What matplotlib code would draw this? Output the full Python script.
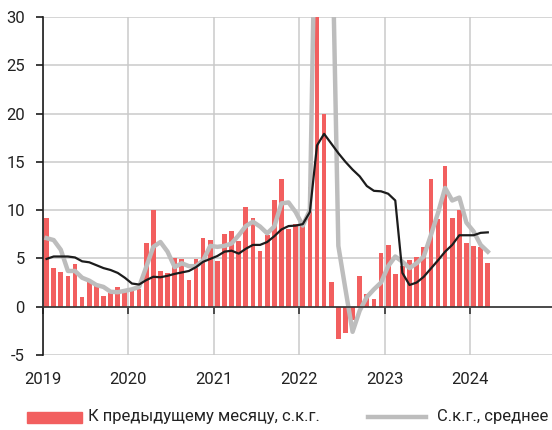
import matplotlib
matplotlib.use("Agg")
import matplotlib.pyplot as plt
import numpy as np
from matplotlib.patches import Rectangle
from matplotlib.lines import Line2D

plt.rcParams['font.family'] = ['Roboto', 'DejaVu Sans']

# Monthly data, Jan 2019 .. Mar 2024
start_year = 2019
mom_saar = [
    9.2, 4.0, 3.6, 3.2, 4.4, 1.0, 2.6, 2.4, 1.1, 1.4, 2.0, 1.5,
    1.6, 1.8, 6.6, 10.0, 3.7, 3.45, 5.0, 4.9, 2.8, 4.9, 7.1, 6.9,
    4.7, 7.5, 7.8, 6.8, 10.3, 9.2, 5.8, 7.4, 11.1, 13.2, 8.0, 8.6,
    8.7, 12.4, 45.0, 20.0, 2.6, -3.3, -2.7, -1.4, 3.2, 1.3, 0.8, 5.6,
    6.4, 3.4, 4.2, 4.8, 5.1, 6.2, 13.2, 9.1, 14.6, 9.15, 10.0, 6.6,
    6.3, 6.2, 4.5,
]
avg_3m = [
    7.1, 6.9, 5.9, 3.7, 3.7, 3.0, 2.7, 2.25, 2.05, 1.55, 1.5, 1.65,
    1.8, 2.05, 4.1, 6.2, 6.7, 5.7, 4.1, 4.5, 4.2, 4.2, 4.8, 6.3,
    6.2, 6.3, 6.55, 7.4, 8.35, 8.8, 8.3, 7.6, 8.3, 10.7, 10.8, 9.8,
    8.4, 10.0, 52.0, 60.0, 44.0, 6.3, 1.8, -2.6, -0.4, 1.0, 1.8, 2.5,
    4.2, 5.2, 4.66, 4.0, 4.5, 5.2, 7.4, 9.7, 12.3, 11.0, 11.3, 8.7,
    7.8, 6.4, 5.7,
]
avg_long = [
    4.95, 5.2, 5.2, 5.2, 5.1, 4.7, 4.6, 4.3, 4.0, 3.8, 3.5, 3.0,
    2.4, 2.3, 2.75, 3.1, 3.05, 3.2, 3.4, 3.55, 3.7, 4.1, 4.65, 4.95,
    5.25, 5.7, 5.8, 5.5, 6.0, 6.4, 6.4, 6.7, 7.3, 8.0, 8.35, 8.4,
    8.55, 9.8, 16.7, 17.9, 16.9, 15.9, 15.0, 14.2, 13.5, 12.5, 12.0, 11.95,
    11.7, 11.0, 3.5, 2.25, 2.5, 3.1, 3.95, 4.8, 5.7, 6.4, 7.4, 7.4,
    7.4, 7.65, 7.7,
]
year_ticks = [2019, 2020, 2021, 2022, 2023, 2024]
year_labels = ['2019', '2020', '2021', '2022', '2023', '2024']
y_ticks = [-5, 0, 5, 10, 15, 20, 25, 30]
legend_labels = ['К предыдущему месяцу, с.к.г.',
                 'С.к.г., среднее']

RED = '#F25F5F'
GREY = '#BDBDBD'
BLACK = '#1C1C1C'
GRID = '#CACACA'

n = len(mom_saar)
x = start_year + (np.arange(n) + 0.5) / 12.0

W, H = 552, 430
fig = plt.figure(figsize=(W / 100, H / 100), dpi=100)
ax_left = 43 / W
ax_w = 512.4 / W
ax_bottom = 1 - 355 / H
ax_h = 338 / H
ax = fig.add_axes([ax_left, ax_bottom, ax_w, ax_h])

ax.bar(x, mom_saar, width=0.66 / 12, color=RED, zorder=2)
ax.plot(x, avg_3m, color=GREY, lw=3.2, zorder=3, solid_joinstyle='round')
ax.plot(x, avg_long, color=BLACK, lw=1.6, zorder=4, solid_joinstyle='round')

ax.set_xlim(2019, 2025)
ax.set_ylim(-5, 30)
ax.set_yticks(y_ticks)
ax.set_yticklabels([str(v) for v in y_ticks])
ax.set_xticks(year_ticks)
ax.set_xticklabels(year_labels)

ax.grid(True, color=GRID, lw=1.1, zorder=0)
ax.set_axisbelow(True)

for s in ['top', 'right']:
    ax.spines[s].set_visible(False)
ax.spines['left'].set_color(BLACK)
ax.spines['left'].set_linewidth(1.2)
ax.spines['bottom'].set_position(('data', 0))
ax.spines['bottom'].set_color('#333333')
ax.spines['bottom'].set_linewidth(1.2)
ax.spines['bottom'].set_zorder(5)

ax.tick_params(axis='y', direction='out', length=5, width=1.2, color=BLACK,
               pad=8, labelsize=12, labelcolor='#222222')
ax.tick_params(axis='x', direction='out', length=5, width=1.2, color='#333333',
               pad=42, labelsize=12, labelcolor='#222222')

# Legend (manual, the original is cut at the right edge)
ly = 1 - 417 / H
ph = 11 / H
fig.patches.append(Rectangle((27 / W, ly - ph / 2), 55 / W, ph,
                             transform=fig.transFigure, color=RED))
fig.text(88 / W, ly, legend_labels[0], fontsize=12, color='#222222',
         va='center', ha='left')
fig.lines.append(Line2D([368 / W, 426 / W], [ly, ly], transform=fig.transFigure,
                        color=GREY, lw=3.2))
fig.text(437 / W, ly, legend_labels[1], fontsize=12, color='#222222',
         va='center', ha='left')

fig.savefig('out.png', dpi=100)
